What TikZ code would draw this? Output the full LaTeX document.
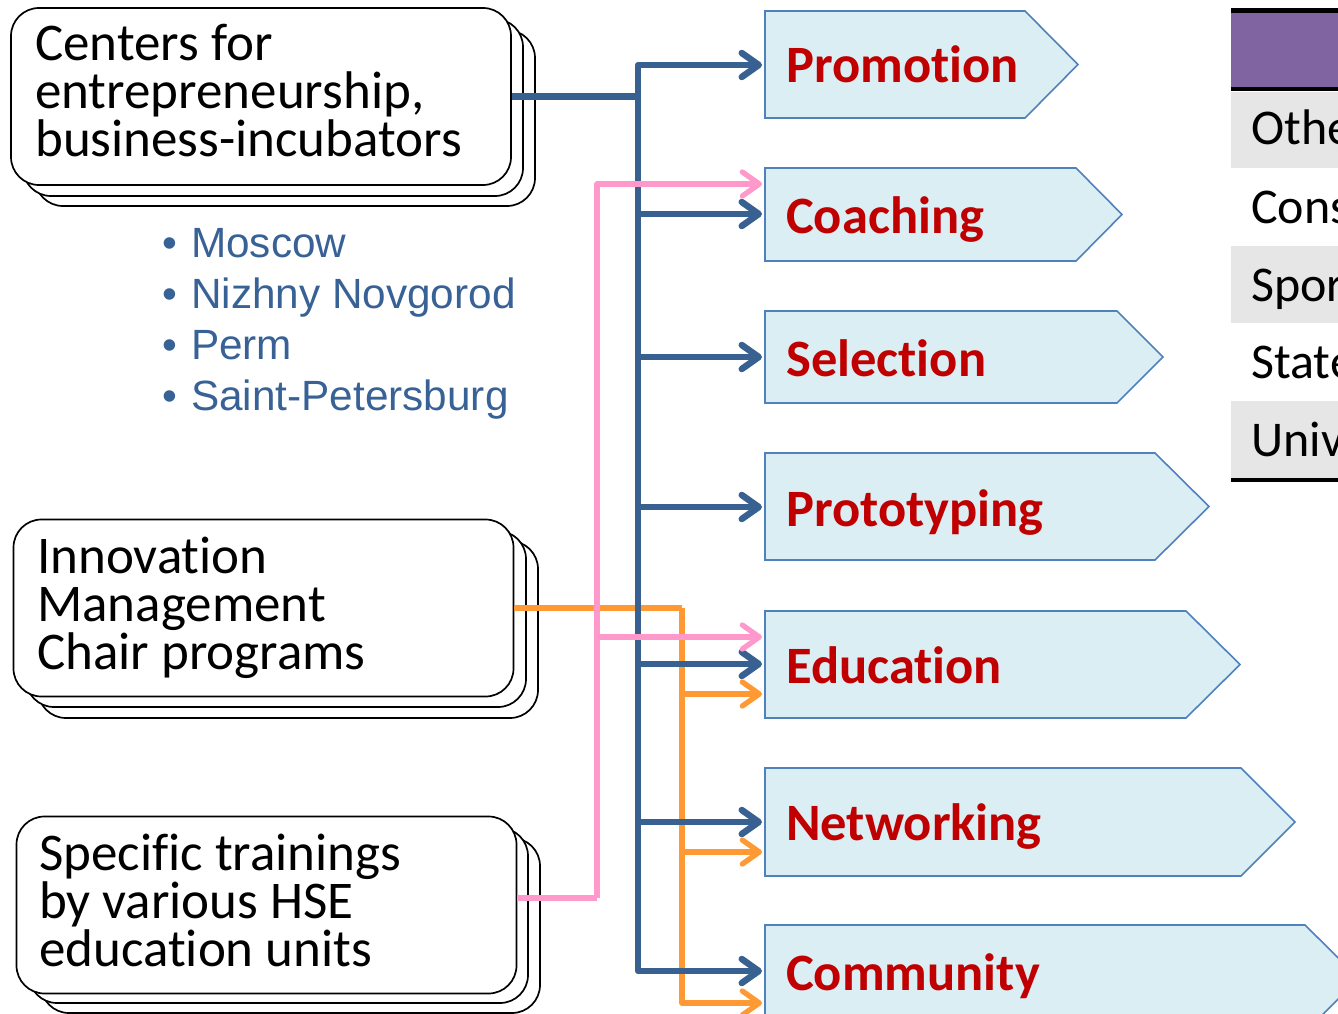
\documentclass[tikz,border=0pt]{standalone}
\usepackage{fontspec}
\setmainfont{Carlito}[Ligatures={NoCommon}]
\newfontfamily\arialf{Liberation Sans}
\usetikzlibrary{arrows.meta}
\definecolor{lineblue}{RGB}{56,97,146}
\definecolor{linepink}{RGB}{255,153,204}
\definecolor{lineorange}{RGB}{255,153,51}
\definecolor{labred}{RGB}{192,0,0}
\definecolor{pentfill}{RGB}{219,238,244}
\definecolor{pentdraw}{RGB}{79,129,189}
\definecolor{hdrpurple}{RGB}{128,100,162}
\definecolor{rowgray}{RGB}{230,230,230}
\definecolor{bullblue}{RGB}{56,97,150}
\begin{document}
\begin{tikzpicture}[x=1pt,y=-1pt,
  card/.style={draw=black,line width=1.7pt,fill=white,rounded corners=28pt},
  frontcard/.style={card,minimum width=500pt,minimum height=177pt,inner sep=0pt},
  cardtext/.style={anchor=base west,inner sep=0pt,font=\fontsize{53}{53}\selectfont},
  pent/.style={draw=pentdraw,line width=1.6pt,fill=pentfill},
  plabel/.style={anchor=base west,inner sep=0pt,font=\fontsize{52.5}{52}\bfseries\selectfont,text=labred},
  bulltext/.style={anchor=base west,inner sep=0pt,font=\arialf\fontsize{42.3}{42}\selectfont,text=bullblue},
  tabtext/.style={anchor=base west,inner sep=0pt,font=\fontsize{50}{50}\selectfont},
  tip/.style={-{Straight Barb[length=17pt,width=24pt,round]}},
  blueline/.style={draw=lineblue,line width=6.5pt,line join=round},
  pinkline/.style={draw=linepink,line width=5.3pt,line join=round},
  orangeline/.style={draw=lineorange,line width=5.3pt,line join=round}
]
\useasboundingbox (0,0) rectangle (1338,1014);
\clip (0,0) rectangle (1338,1014);

% ---------- table (right) ----------
\fill[hdrpurple] (1231,12) rectangle (1338,88);
\fill[rowgray] (1231,92) rectangle (1338,168);
\fill[rowgray] (1231,246) rectangle (1338,323);
\fill[rowgray] (1231,401) rectangle (1338,478);
\draw[line width=5pt] (1231,10.5) -- (1338,10.5);
\draw[line width=4pt] (1231,89.5) -- (1338,89.5);
\draw[line width=4.5pt] (1231,480) -- (1338,480);
\node[tabtext] (r1) at (1251,144) {Othe};
\node[tabtext] (r2) at (1251,223) {Cons};
\node[tabtext] (r3) at (1251,301) {Spor};
\node[tabtext] (r4) at (1251,378) {State};
\node[tabtext] (r5) at (1251,456) {Univ};

% ---------- pentagons ----------
\draw[pent] (765,11) -- (1025,11) -- (1078,64.5) -- (1025,118) -- (765,118) -- cycle;
\draw[pent] (765,168) -- (1076,168) -- (1122,214.5) -- (1076,261) -- (765,261) -- cycle;
\draw[pent] (765,311) -- (1117,311) -- (1163,357) -- (1117,403) -- (765,403) -- cycle;
\draw[pent] (765,453) -- (1155,453) -- (1209,506.5) -- (1155,560) -- (765,560) -- cycle;
\draw[pent] (765,611) -- (1186,611) -- (1240,664.5) -- (1186,718) -- (765,718) -- cycle;
\draw[pent] (765,768) -- (1241,768) -- (1295,822) -- (1241,876) -- (765,876) -- cycle;
\draw[pent] (765,925) -- (1305,925) -- (1359,978.5) -- (1305,1032) -- (765,1032) -- cycle;

\node[plabel] (promo) at (786,83) {Promotion};
\node[plabel] (coach) at (786,233) {Coaching};
\node[plabel] (selec) at (786,376) {Selection};
\node[plabel] (proto) at (786,526) {Prototyping};
\node[plabel] (educ) at (786,683) {Education};
\node[plabel] (netw) at (786,840) {Networking};
\node[plabel] (comm) at (786,990) {Community};

% arrow targets on the left edges of the pentagons
\coordinate (promoB) at (762,65);
\coordinate (coachP) at (762,184);
\coordinate (coachB) at (762,214);
\coordinate (selecB) at (762,357);
\coordinate (protoB) at (762,507);
\coordinate (educP) at (762,637);
\coordinate (educB) at (762,664);
\coordinate (educO) at (762,694);
\coordinate (netwB) at (762,822);
\coordinate (netwO) at (762,852);
\coordinate (commB) at (762,971);
\coordinate (commO) at (762,1003);

% ---------- stacked cards ----------
\draw[card] (35,30) rectangle (535,206);
\draw[card] (23,19) rectangle (523,196);
\node[frontcard] (c1) at (261,96.5) {};
\node[cardtext] (c1a) at (35,61) {Centers for};
\node[cardtext] (c1b) at (35,109) {entrepreneurship,};
\node[cardtext] (c1c) at (35,157) {business-incubators};

\draw[card] (38,541) rectangle (538,718);
\draw[card] (26,531) rectangle (526,707);
\node[frontcard] (c2) at (263.5,608) {};
\node[cardtext] (c2a) at (37,573) {Innovation};
\node[cardtext] (c2b) at (37,621) {Management};
\node[cardtext] (c2c) at (37,669) {Chair programs};

\draw[card] (41,838) rectangle (540,1013);
\draw[card] (29,828) rectangle (528,1003);
\node[frontcard] (c3) at (266.5,905) {};
\node[cardtext] (c3a) at (39,870) {Specific trainings};
\node[cardtext] (c3b) at (39,918) {by various HSE};
\node[cardtext] (c3c) at (39,966) {education units};

% ---------- bullet list ----------
\node[bulltext] (m1) at (162,257) {\makebox[29pt][l]{•}Moscow};
\node[bulltext] (m2) at (162,308) {\makebox[29pt][l]{•}Nizhny Novgorod};
\node[bulltext] (m3) at (162,359) {\makebox[29pt][l]{•}Perm};
\node[bulltext] (m4) at (162,410) {\makebox[29pt][l]{•}Saint-Petersburg};

% ---------- connectors ----------
\coordinate (oj) at (682,608);
\coordinate (bj) at (638,96.5);
\coordinate (pj) at (597,898);

% orange
\draw[orangeline] (c2.east) -- (oj);
\draw[orangeline,tip] (oj) |- (educO);
\draw[orangeline,tip] (oj) |- (netwO);
\draw[orangeline,tip] (oj) |- (commO);

% blue
\draw[blueline] (c1.east) -- (bj);
\draw[blueline,tip] (bj) |- (promoB);
\draw[blueline,tip] (bj) |- (coachB);
\draw[blueline,tip] (bj) |- (selecB);
\draw[blueline,tip] (bj) |- (protoB);
\draw[blueline,tip] (bj) |- (educB);
\draw[blueline,tip] (bj) |- (netwB);
\draw[blueline,tip] (bj) |- (commB);

% pink
\draw[pinkline] (c3.east |- pj) -- (pj);
\draw[pinkline,tip] (pj) |- (coachP);
\draw[pinkline,tip] (pj) |- (educP);
\end{tikzpicture}
\end{document}
